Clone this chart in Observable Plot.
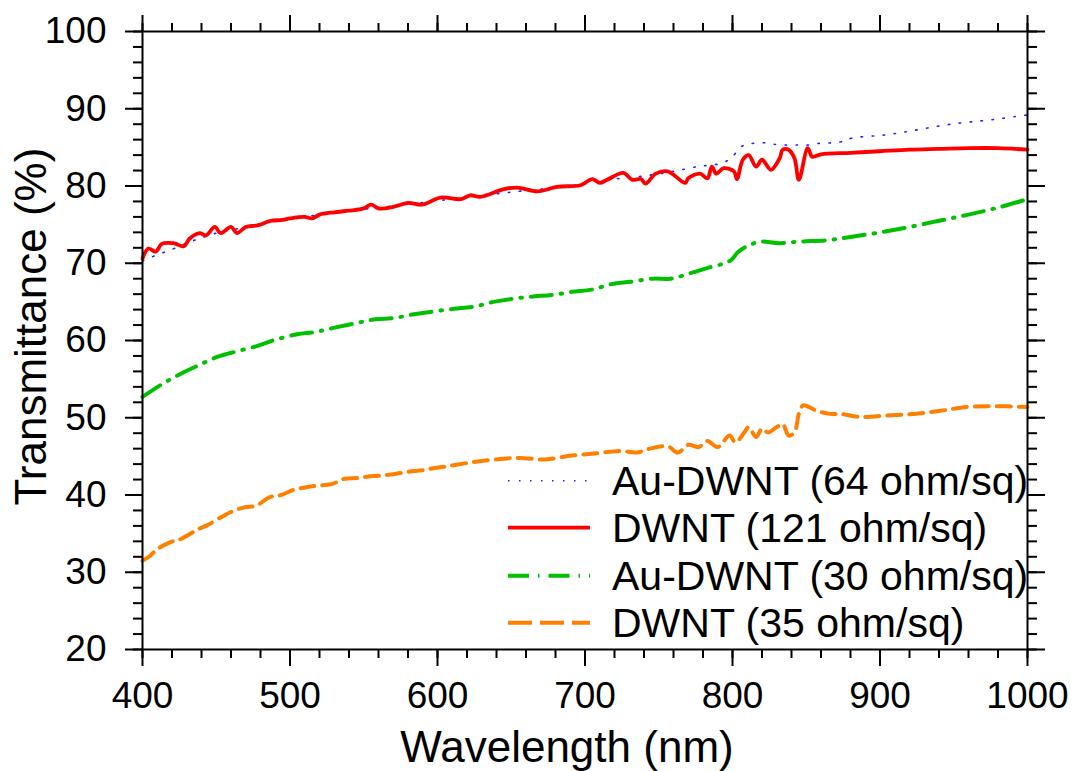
<!DOCTYPE html>
<html>
<head>
<meta charset="utf-8">
<script src="https://cdn.jsdelivr.net/npm/d3@7"></script>
<script src="https://cdn.jsdelivr.net/npm/@observablehq/plot@0.6"></script>
<style>
  html, body { margin: 0; padding: 0; background: #fff; }
  #chart { position: relative; width: 1073px; height: 771px; }
</style>
</head>
<body>
<div id="chart"></div>
<script>
// ---- Data ----
const seriesNames = ["Au-DWNT (64 ohm/sq)", "DWNT (121 ohm/sq)", "Au-DWNT (30 ohm/sq)", "DWNT (35 ohm/sq)"];

// Au-DWNT (64 ohm/sq), blue dotted
const auDwnt64Wl = [400, 410, 420, 430, 440, 450, 460, 470, 480, 490, 500, 520, 540, 560, 580, 600, 620, 640, 660, 680, 700, 720, 740, 760, 776, 784, 792, 799, 806, 813, 821, 828, 836, 844, 851, 858, 873, 881, 903, 917, 932, 948, 962, 977, 992, 1000];
const auDwnt64T  = [70.3, 71.1, 71.8, 72.6, 73.3, 73.9, 74.3, 74.7, 75.1, 75.4, 75.7, 76.3, 76.8, 77.2, 77.6, 78.1, 78.5, 79.0, 79.4, 79.8, 80.3, 80.9, 81.3, 81.9, 82.5, 82.7, 82.9, 83.6, 85.1, 85.5, 85.6, 85.4, 85.3, 85.3, 85.3, 85.5, 85.7, 86.2, 86.6, 87.0, 87.5, 88.0, 88.3, 88.6, 89.0, 89.2];

// DWNT (121 ohm/sq), red solid
const dwnt121Wl = [400, 404, 409, 413, 421, 428, 432, 439, 443, 449, 453, 460, 464, 470, 478, 487, 495, 500, 510, 515, 520, 530, 540, 550, 555, 560, 570, 580, 590, 602, 616, 622, 629, 645, 654, 668, 681, 697, 705, 710, 715, 726, 732, 738, 741, 748, 756, 768, 770, 778, 783, 786, 789, 794, 801, 803, 807, 811, 816, 820, 826, 832, 834, 838, 842, 845, 851, 854, 860, 880, 900, 920, 940, 960, 980, 1000];
const dwnt121T  = [70.6, 71.9, 71.5, 72.5, 72.6, 72.2, 73.2, 73.9, 73.6, 74.7, 73.9, 74.7, 73.9, 74.7, 74.9, 75.5, 75.6, 75.8, 76.0, 75.8, 76.3, 76.6, 76.8, 77.1, 77.6, 77.1, 77.3, 77.8, 77.6, 78.5, 78.3, 78.8, 78.6, 79.6, 79.8, 79.3, 79.9, 80.1, 80.9, 80.4, 80.8, 81.7, 80.8, 80.9, 80.3, 81.6, 81.9, 80.4, 81.0, 81.6, 81.0, 82.5, 81.6, 82.3, 81.9, 80.9, 83.4, 84.0, 82.5, 83.4, 82.1, 83.6, 84.7, 84.7, 83.6, 80.8, 84.9, 83.8, 84.1, 84.3, 84.5, 84.7, 84.8, 84.9, 84.9, 84.7];

// Au-DWNT (30 ohm/sq), green dash-dot
const auDwnt30Wl = [400, 412, 425, 438, 451, 464, 478, 490, 505, 517, 531, 546, 558, 570, 584, 595, 611, 625, 638, 651, 665, 678, 691, 705, 718, 731, 746, 758, 772, 785, 793, 799, 804, 811, 819, 831, 845, 865, 880, 900, 920, 940, 960, 980, 1000];
const auDwnt30T  = [52.7, 54.2, 55.6, 56.8, 57.9, 58.6, 59.3, 60.1, 60.8, 61.1, 61.7, 62.3, 62.75, 62.9, 63.4, 63.7, 64.1, 64.4, 65.0, 65.4, 65.7, 65.9, 66.3, 66.6, 67.3, 67.6, 68.0, 68.0, 68.75, 69.5, 69.9, 70.4, 71.5, 72.3, 72.8, 72.6, 72.8, 73.0, 73.4, 74.0, 74.7, 75.5, 76.3, 77.2, 78.3];

// DWNT (35 ohm/sq), orange dashed
const dwnt35Wl = [400, 405, 410, 419, 426, 438, 444, 454, 460, 469, 477, 486, 494, 503, 511, 518, 528, 537, 546, 553, 561, 570, 580, 590, 595, 606, 622, 639, 656, 673, 691, 708, 724, 735, 744, 756, 763, 770, 777, 783, 790, 798, 802, 808, 811, 816, 820, 824, 830, 834, 838, 842, 845, 848, 857, 866, 873, 887, 905, 923, 941, 959, 977, 1000];
const dwnt35T  = [31.5, 32.1, 33.0, 33.9, 34.3, 35.6, 36.1, 37.2, 37.8, 38.4, 38.6, 39.7, 40.0, 40.7, 41.0, 41.2, 41.4, 42.1, 42.2, 42.4, 42.5, 42.7, 43.0, 43.2, 43.4, 43.7, 44.2, 44.6, 44.8, 44.6, 45.1, 45.4, 45.7, 45.5, 46.0, 46.3, 45.5, 46.5, 46.2, 47.0, 46.2, 47.7, 46.8, 48.1, 48.8, 47.5, 48.6, 48.1, 48.8, 49.2, 47.7, 48.1, 50.5, 51.6, 50.9, 50.5, 50.5, 50.1, 50.3, 50.5, 50.9, 51.4, 51.5, 51.4];

// Axis ticks
const xMajor = [400, 500, 600, 700, 800, 900, 1000];
const xMinor = d3.range(400, 1001, 20);
const yMajor = [20, 30, 40, 50, 60, 70, 80, 90, 100];
const yMinor = d3.range(20, 101, 2);

// ---- Build tables ----
const toRows = (wl, t) => wl.map((w, i) => ({wl: w, T: t[i]}));
const s64 = toRows(auDwnt64Wl, auDwnt64T);
const s121 = toRows(dwnt121Wl, dwnt121T);
const s30 = toRows(auDwnt30Wl, auDwnt30T);
const s35 = toRows(dwnt35Wl, dwnt35T);

const styles = [
  {stroke: "#2020ff", strokeWidth: 1.6, dash: "1.5,9.5"},
  {stroke: "#ff0000", strokeWidth: 3.8, dash: null},
  {stroke: "#00c000", strokeWidth: 4, dash: "21,9,1.5,9"},
  {stroke: "#ff8000", strokeWidth: 4, dash: "14,8"}
];

const FONT = "'Liberation Sans', Arial, Helvetica, sans-serif";
const TICKFS = 37;
const TITLEFS = 44;

const lineOpts = (st) => ({x: "wl", y: "T", stroke: st.stroke, strokeWidth: st.strokeWidth,
  strokeDasharray: st.dash ?? undefined, curve: "catmull-rom"});

const plot = Plot.plot({
  width: 1073,
  height: 771,
  marginLeft: 142,
  marginRight: 46,
  marginTop: 31,
  marginBottom: 122,
  style: {fontFamily: FONT, background: "#fff", color: "#000"},
  x: {domain: [400, 1000]},
  y: {domain: [20, 100]},
  marks: [
    Plot.line(s64, lineOpts(styles[0])),
    Plot.line(s121, lineOpts(styles[1])),
    Plot.line(s30, lineOpts(styles[2])),
    Plot.line(s35, lineOpts(styles[3])),
    // minor ticks on all four sides
    Plot.axisX({anchor: "bottom", ticks: xMinor, tickSize: 9, text: null, label: null, strokeWidth: 2}),
    Plot.axisX({anchor: "top", ticks: xMinor, tickSize: 9, text: null, label: null, strokeWidth: 2}),
    Plot.axisY({anchor: "left", ticks: yMinor, tickSize: 9, text: null, label: null, strokeWidth: 2}),
    Plot.axisY({anchor: "right", ticks: yMinor, tickSize: 9, text: null, label: null, strokeWidth: 2}),
    // major ticks
    Plot.axisX({anchor: "bottom", ticks: xMajor, tickSize: 17, tickPadding: 15, fontSize: TICKFS, label: null, strokeWidth: 2, tickFormat: d3.format("d")}),
    Plot.axisX({anchor: "top", ticks: xMajor, tickSize: 17, text: null, label: null, strokeWidth: 2}),
    Plot.axisY({anchor: "left", ticks: yMajor, tickSize: 17, tickPadding: 19, fontSize: TICKFS, label: null, strokeWidth: 2, tickFormat: d3.format("d")}),
    Plot.axisY({anchor: "right", ticks: yMajor, tickSize: 17, text: null, label: null, strokeWidth: 2}),
    Plot.frame({stroke: "#000", strokeWidth: 2}),
    // axis titles
    Plot.text([0], {frameAnchor: "bottom", text: () => "Wavelength (nm)", textAnchor: "middle", dy: 112, dx: -18, fontSize: TITLEFS, fill: "#000"}),
    Plot.text([0], {frameAnchor: "left", text: () => "Transmittance (%)", textAnchor: "middle", rotate: -90, dx: -111, dy: -14, fontSize: TITLEFS, fill: "#000"})
  ]
});

document.getElementById("chart").appendChild(plot);

// ---- Legend (inside the plot area, lower right) ----
const svg = d3.select(plot);
const legendRowY = [480.7, 527.7, 575.7, 622.7];
const lg = svg.append("g").attr("font-family", FONT).attr("font-size", 41).attr("text-anchor", "start");
seriesNames.forEach((name, i) => {
  const st = styles[i];
  lg.append("line")
    .attr("x1", 508).attr("x2", 590)
    .attr("y1", legendRowY[i]).attr("y2", legendRowY[i])
    .attr("stroke", st.stroke).attr("stroke-width", st.strokeWidth)
    .attr("stroke-dasharray", i === 3 ? "24,8" : st.dash);
  lg.append("text")
    .attr("x", 612).attr("y", legendRowY[i]).attr("dy", "0.35em")
    .attr("text-anchor", "start")
    .attr("fill", "#000")
    .text(name);
});
</script>
</body>
</html>
